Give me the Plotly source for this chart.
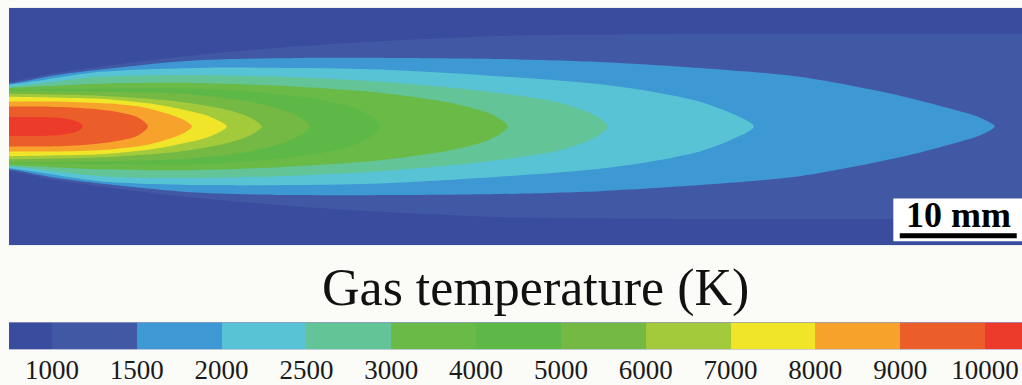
import plotly.graph_objects as go

# ---- data (axial distance x and radius r in mm) ----
levels = [1000, 1500, 2000, 2500, 3000, 4000, 5000, 6000, 7000, 8000, 9000, 10000]
band_colors = ["#3a4c9e", "#4159a5", "#3e98d3", "#57c3d4", "#63c497", "#6aba47",
               "#5db847", "#73b944", "#a2ca3b", "#f1e52a", "#f6a22b", "#eb5d29", "#ec3a2b"]

# contour outlines: axial positions and half-widths (mm) along the upper edge
c1000_x = [0, 4.10, 15.21, 27.69, 41.97, 59.06, 86.58, 93.25]
c1000_r = [3.85, 4.62, 6.07, 7.09, 7.78, 7.95, 7.95, 7.95]
c1500_x = [0, 4.10, 15.21, 24.87, 33.42, 41.97, 50.51, 59.06, 67.61, 76.15, 80.43, 82.99, 84.27]
c1500_r = [3.68, 4.44, 5.64, 5.90, 5.90, 5.81, 5.56, 5.04, 4.27, 2.65, 1.54, 0.77, 0]
c2000_x = [0, 7.78, 16.32, 24.87, 31.71, 40.26, 50.51, 54.79, 59.06, 61.62, 63.68]
c2000_r = [3.59, 4.70, 5.04, 5.04, 4.91, 4.44, 3.63, 3.03, 2.14, 1.20, 0]
c2500_x = [0, 7.78, 14.62, 23.16, 31.71, 40.26, 47.09, 50.09, 51.20]
c2500_r = [3.42, 4.27, 4.44, 4.27, 3.85, 3.08, 2.05, 0.94, 0]
c3000_x = [0, 7.78, 14.62, 23.16, 31.71, 37.69, 41.11, 42.65]
c3000_r = [3.33, 3.68, 3.76, 3.50, 2.91, 2.05, 1.11, 0]
c4000_x = [0, 7.78, 16.32, 24.87, 29.15, 30.85, 31.71]
c4000_r = [3.16, 3.25, 3.25, 2.56, 1.71, 0.94, 0]
c5000_x = [0, 7.78, 14.62, 20.60, 24.02, 25.73]
c5000_r = [3.08, 2.99, 2.82, 2.14, 1.20, 0]
c6000_x = [0, 7.78, 14.62, 18.89, 20.77, 21.62]
c6000_r = [2.82, 2.65, 2.14, 1.37, 0.68, 0]
c7000_x = [0, 4.36, 7.78, 12.05, 14.62, 17.18, 18.63]
c7000_r = [2.56, 2.48, 2.39, 1.97, 1.50, 0.85, 0]
c8000_x = [0, 4.36, 8.63, 11.62, 13.76, 15.04, 15.64]
c8000_r = [2.14, 2.14, 1.97, 1.62, 1.03, 0.51, 0]
c9000_x = [0, 3.50, 6.92, 9.49, 11.03, 11.88]
c9000_r = [1.71, 1.71, 1.54, 1.20, 0.77, 0]
c10000_x = [0, 2.65, 4.36, 5.38, 6.07, 6.32]
c10000_r = [0.81, 0.81, 0.73, 0.56, 0.30, 0]

contours = [(c1000_x, c1000_r), (c1500_x, c1500_r), (c2000_x, c2000_r), (c2500_x, c2500_r),
            (c3000_x, c3000_r), (c4000_x, c4000_r), (c5000_x, c5000_r), (c6000_x, c6000_r),
            (c7000_x, c7000_r), (c8000_x, c8000_r), (c9000_x, c9000_r), (c10000_x, c10000_r)]

x_len_mm = 86.6
r_half_mm = 10.2
scale_len_mm = 10
title_text = "Gas temperature (K)"

fig = go.Figure()

# filled contour bands, lowest level first
for i, (cx, cr) in enumerate(contours):
    up_x = [-2] + cx
    up_y = [cr[0]] + cr
    lo_x = cx[::-1] + [-2]
    lo_y = [-v for v in cr[::-1]] + [-cr[0]]
    if cr[-1] == 0:
        lo_x = lo_x[1:]
        lo_y = lo_y[1:]
    fig.add_trace(go.Scatter(
        x=up_x + lo_x, y=up_y + lo_y, mode="lines", fill="toself",
        fillcolor=band_colors[i + 1], line=dict(width=0, shape="spline", smoothing=0.8),
        hoverinfo="skip", showlegend=False, xaxis="x", yaxis="y"))

# colour bar as a one-row heatmap in level-index space
cb_edges = [-0.6] + list(range(len(levels))) + [len(levels) - 0.4]
n = len(band_colors)
cscale = []
for k, c in enumerate(band_colors):
    cscale.append([k / n, c])
    cscale.append([(k + 1) / n, c])
fig.add_trace(go.Heatmap(
    z=[list(range(n))], x=cb_edges, y=[0, 1], colorscale=cscale,
    zmin=-0.5, zmax=n - 0.5, showscale=False, hoverinfo="skip",
    xaxis="x2", yaxis="y2"))

serif = "Liberation Serif, Times New Roman, serif"

fig.update_layout(
    width=1022, height=385,
    margin=dict(l=9, r=0, t=0, b=0),
    paper_bgcolor="#fbfbf8",
    plot_bgcolor=band_colors[0],
    xaxis=dict(domain=[0, 1], range=[0, x_len_mm], visible=False, fixedrange=True),
    yaxis=dict(domain=[1 - 247 / 385, 1 - 8 / 385], range=[-r_half_mm, r_half_mm],
               visible=False, fixedrange=True),
    xaxis2=dict(domain=[0, 1], range=[-0.506, len(levels) - 0.564], anchor="y2",
                tickmode="array", tickvals=list(range(len(levels))),
                ticktext=[str(v) for v in levels], showgrid=False, zeroline=False,
                showline=False, ticks="", ticklabelstandoff=2, fixedrange=True,
                tickfont=dict(family=serif, size=27, color="#1a1a1a")),
    yaxis2=dict(domain=[1 - 352 / 385, 1 - 325 / 385], range=[0, 1], anchor="x2",
                visible=False, fixedrange=True),
    shapes=[
        dict(type="rect", xref="x", yref="y", x0=75.6, x1=x_len_mm + 1, y0=-9.87, y1=-6.2,
             fillcolor="white", line=dict(width=0), layer="above"),
        dict(type="line", xref="x", yref="y", x0=x_len_mm - 0.45 - scale_len_mm,
             x1=x_len_mm - 0.45, y0=-9.4, y1=-9.4, line=dict(color="black", width=5)),
    ],
    annotations=[
        dict(text=f"{scale_len_mm} mm", xref="x", yref="y",
             x=x_len_mm - 0.45 - scale_len_mm / 2, y=-7.65, showarrow=False,
             font=dict(family=serif, size=36, color="black", weight="bold"),
             xanchor="center", yanchor="middle"),
        dict(text=title_text, xref="paper", yref="paper", x=0.52, y=1 - 290 / 385,
             showarrow=False, xanchor="center", yanchor="middle",
             font=dict(family=serif, size=52, color="#111111")),
    ],
)

fig.write_html("out.html", config={"displayModeBar": False},
               post_script="document.body.style.margin='0';document.body.style.overflow='hidden';")
